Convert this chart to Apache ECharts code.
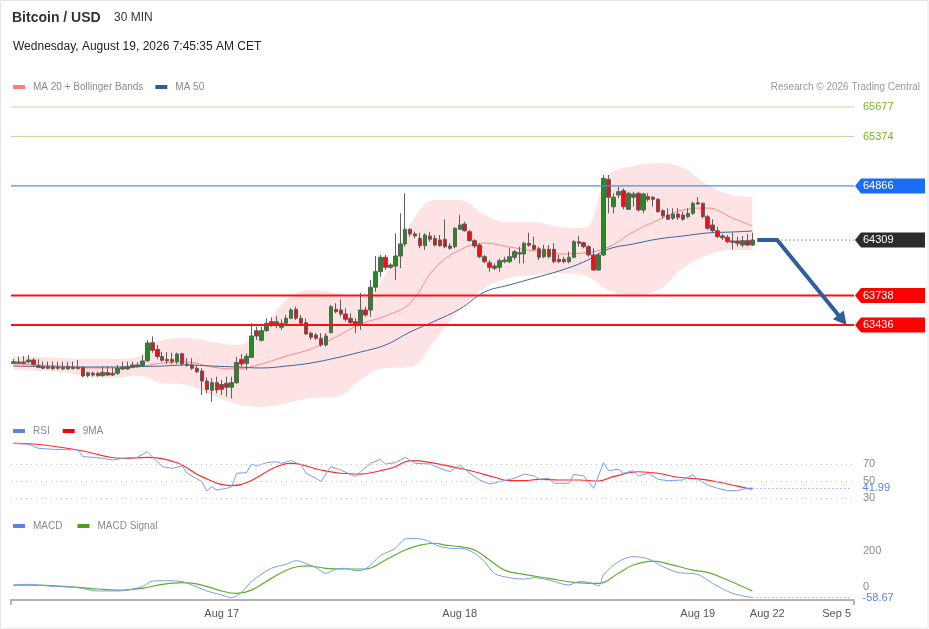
<!DOCTYPE html>
<html><head><meta charset="utf-8">
<script src="https://cdn.jsdelivr.net/npm/echarts@6/dist/echarts.min.js"></script>
<style>html,body{margin:0;padding:0;background:#fff}#c{width:929px;height:629px}</style>
</head><body><div id="c"></div>
<script>
const FONT = '"Liberation Sans", Arial, sans-serif';

// ---- candles (30 min bars) ----
const candleOpen = [
63042,63042,63056,63056,63076,63018,63007,62991,63007,63004,
63001,62984,63001,63001,63001,62915,62940,62940,62915,62946,
62940,62940,63001,62984,63001,63007,63020,63069,63254,63184,
63112,63083,63083,63059,63141,63035,63025,62991,62963,62860,
62765,62843,62824,62837,62796,62843,63083,63042,63104,63377,
63279,63377,63470,63436,63412,63453,63505,63597,63505,63460,
63351,63333,63299,63230,63357,63597,63590,63549,63505,63470,
63436,63590,63590,63824,63984,64132,64029,64042,64145,64269,
64420,64372,64327,64251,64351,64327,64310,64317,64248,64241,
64420,64474,64395,64303,64258,64138,64076,64042,64029,64087,
64087,64132,64179,64166,64276,64255,64220,64138,64214,64214,
64111,64111,64087,64132,64292,64282,64241,64156,64001,64156,
64934,64652,64772,64817,64625,64749,64790,64618,64755,64749,
64728,64611,64567,64533,64577,64567,64549,64584,64693,64687,
64549,64464,64405,64351,64338,64300,64300,64258,64303,64258];
const candleClose = [
63059,63056,63042,63076,63028,63001,62991,63007,62987,62991,
62984,63007,62987,62987,62912,62946,62922,62915,62950,62922,
62922,62991,62984,63007,63025,63025,63066,63251,63176,63112,
63073,63066,63059,63138,63035,63022,62991,62956,62860,62773,
62843,62768,62775,62796,62843,63050,63035,63114,63323,63323,
63377,63453,63436,63470,63453,63505,63590,63505,63453,63344,
63310,63299,63230,63323,63624,63573,63549,63495,63460,63436,
63590,63539,63824,63984,64132,64029,64053,64145,64269,64420,
64372,64351,64251,64361,64317,64258,64251,64241,64224,64430,
64464,64405,64303,64248,64138,64087,64029,64019,64097,64104,
64138,64190,64166,64276,64255,64214,64132,64214,64138,64087,
64087,64087,64132,64292,64276,64241,64156,64001,64156,64944,
64749,64749,64806,64652,64790,64783,64618,64783,64728,64728,
64601,64557,64523,64577,64543,64523,64584,64687,64680,64549,
64430,64405,64344,64333,64292,64286,64276,64303,64258,64309];
const candleLow = [
63035,63040,63032,63042,63014,62991,62981,62981,62973,62973,
62973,62973,62981,62981,62898,62898,62905,62905,62905,62912,
62912,62922,62973,62973,62991,63001,63014,63056,63151,63087,
63059,63035,63035,63035,63014,63007,62973,62940,62716,62734,
62647,62734,62716,62699,62682,62830,63007,62973,63094,63282,
63264,63367,63418,63402,63385,63436,63495,63487,63436,63333,
63282,63282,63213,63213,63351,63556,63521,63470,63436,63351,
63385,63521,63521,63778,63932,64001,64012,63899,64019,64241,
64344,64327,64224,64207,64292,64241,64241,64224,64207,64224,
64413,64395,64292,64224,64122,64070,63984,64001,63984,64070,
64070,64104,64070,64070,64241,64200,64104,64122,64122,64070,
64070,64070,64070,64122,64241,64224,64138,63994,63994,64145,
64584,64584,64739,64625,64618,64652,64601,64584,64704,64652,
64590,64533,64515,64515,64515,64508,64533,64567,64670,64533,
64413,64385,64327,64310,64276,64214,64241,64235,64248,64248];
const candleHigh = [
63087,63110,63117,63128,63094,63083,63059,63059,63059,63059,
63059,63059,63059,63076,63007,62956,62956,62956,63007,63014,
63001,63025,63059,63059,63059,63053,63128,63279,63320,63230,
63158,63158,63151,63151,63151,63094,63094,63025,62991,62894,
62888,62905,62871,62905,62905,63110,63138,63145,63453,63418,
63418,63505,63515,63528,63495,63539,63608,63624,63539,63505,
63367,63354,63351,63351,63642,63659,63700,63608,63556,63505,
63765,63624,63899,64145,64156,64156,64070,64379,64584,64790,
64430,64395,64385,64379,64395,64361,64361,64523,64276,64440,
64567,64498,64413,64317,64276,64156,64104,64070,64122,64138,
64224,64207,64241,64292,64385,64344,64241,64258,64258,64276,
64156,64138,64190,64310,64351,64292,64258,64224,64173,64978,
64978,64790,64858,64841,64806,64806,64806,64796,64790,64762,
64739,64625,64636,64636,64636,64601,64636,64704,64749,64693,
64567,64523,64446,64372,64361,64385,64344,64351,64372,64385];

// ---- overlays read at sampled bars ----
const overlayIdx = [0,5,10,15,20,25,30,35,40,45,50,55,60,65,70,75,80,85,90,95,100,105,110,115,120,125,130,135,140,145,149];
const bbUpper = [63107,63107,63097,63087,63087,63107,63282,63302,63261,63230,63385,63693,63796,63765,63724,63950,64464,64721,64721,64567,64495,64495,64443,64433,64978,65070,65101,65050,64875,64772,64752];
const bbLower = [62973,62963,62953,62901,62891,62912,62840,62819,62716,62624,62593,62634,62686,62696,62871,62994,63004,63282,63590,63816,63919,63950,63971,63950,63796,63744,63796,64022,64156,64207,64207];
const ma20 = [63035,63025,63014,62994,62994,63004,63045,63056,63004,62984,63035,63117,63189,63313,63446,63528,63662,64022,64207,64279,64238,64197,64166,64176,64238,64392,64515,64618,64639,64536,64454];
const ma50 = [63014,63009,63004,63004,63004,63009,63014,63025,63014,63004,62994,63014,63045,63097,63158,63230,63364,63477,63600,63775,63847,63919,63991,64084,64217,64269,64320,64351,64382,64392,64402];

// ---- RSI ----
const rsiIdx = [0,3,5,8,13,14,16,18,20,22,25,27,28,30,32,34,35,36,38,39,40,41,43,44,45,47,48,49,51,53,54,56,58,59,61,62,64,66,69,70,72,74,75,77,79,81,84,86,88,90,92,94,96,98,101,103,105,106,108,109,112,113,115,117,119,120,122,123,125,126,128,130,132,135,137,138,140,142,144,146,147,149];
const rsiVal = [94.3,93.5,88.5,87.3,86.5,78.6,77.9,76.7,74.7,76.7,77.9,84.5,78.6,66.8,64.9,67.6,59.1,55.9,49.2,38.2,43.3,39.4,41.4,43.3,59.1,59.8,70,67.6,71.5,72.7,70.8,73.9,68.8,59.1,53.2,49.2,66.8,62.9,55.1,60.9,70.8,75.5,70,71.5,77.9,70.8,70,64.9,60.9,68.8,59.1,51.2,46.5,49.2,53.2,58.2,55.9,52,53.2,47.3,47.3,57.9,55.9,41.4,71.5,62.1,63.8,59.1,62.1,55.9,59.1,52,50.4,51.2,57.1,52,45.3,41.4,38.6,38.6,40.2,41.99];
const rsiMaIdx = [0,4,13,22,27,33,38,44,47,53,56,62,66,70,74,77,79,81,85,89,93,97,100,103,106,110,114,118,121,126,130,134,139,144,148,149];
const rsiMaVal = [94.3,93.5,86.5,76.7,77.9,71.5,55.1,44.5,48,66.8,70.8,62.9,59.1,58.2,62.1,66.8,72.7,73.9,70.8,66.1,60.9,54.4,50.4,50.4,52,51.2,51.2,50,55.1,60.9,59.1,54.4,52,46.5,41.4,40.6];
const rsiLevels = [70, 50, 30];

// ---- MACD ----
const macdIdx = [0,3,7,13,17,21,26,28,31,34,36,39,42,44,46,48,52,55,57,58,61,63,65,67,69,71,74,77,79,81,83,86,88,91,93,95,97,100,103,105,108,112,114,116,118,119,122,125,128,131,134,138,141,145,149];
const macdVal = [11,15,6,-4,-22,-22,2,33,35,30,11,-22,-44,-59,-30,30,104,126,146,141,107,76,100,104,91,100,174,215,267,270,261,225,215,211,187,141,76,52,44,52,39,11,30,26,7,67,141,169,156,113,81,70,20,-35,-58.67];
const sigIdx = [0,4,11,17,21,26,30,34,38,42,45,48,52,56,59,63,67,71,75,79,82,85,87,90,93,96,99,103,108,113,118,122,125,129,133,137,140,144,149];
const sigVal = [11,11,2,-11,-17,-7,15,24,11,-22,-35,-17,48,104,118,104,100,100,150,206,233,243,233,224,206,150,94,70,48,26,20,76,122,144,122,94,81,39,-22];
const macdLevels = [200, 0];

// ---- annotation levels & forecast ----
const levelPrices = [65677, 65374, 64866, 64309, 63738, 63436];
const levelKinds  = ['res', 'res', 'pivot', 'last', 'sup', 'sup'];
const forecastIdx = [150, 154, 168];
const forecastPrice = [64309, 64309, 63436];

// ---- time axis ----
const N_CAT = 170;
const xCategories = Array.from({length: N_CAT}, (_, i) => String(i));
const tickIndex = [42, 90, 138, 152, 166];
const tickText = ['Aug 17', 'Aug 18', 'Aug 19', 'Aug 22', 'Sep 5'];

const lastIndex = candleClose.length - 1;
const pairs = (idx, vals) => idx.map((x, k) => [x, vals[k]]);
const candles = candleOpen.map((o, i) => [o, candleClose[i], candleLow[i], candleHigh[i]]);
const bandWidth = overlayIdx.map((x, k) => [x, bbUpper[k] - bbLower[k]]);
const rsiLast = rsiVal[rsiVal.length - 1];
const macdLast = macdVal[macdVal.length - 1];

const levelStyle = {
  res:   {line: '#bcdca2', width: 1, dash: null, text: '#7fb321', tag: null},
  pivot: {line: '#4f8bf6', width: 1.3, dash: null, text: '#fff', tag: '#1b6ef3'},
  last:  {line: '#444', width: 1, dash: [1, 3], text: '#fff', tag: '#2c2c2c'},
  sup:   {line: '#ff1010', width: 2, dash: null, text: '#fff', tag: '#ff0000'}
};

const chart = echarts.init(document.getElementById('c'), null, {renderer: 'canvas'});

const grids = [
  {left: 11, right: 75, top: 100, height: 310},
  {left: 11, right: 75, top: 438.5, height: 85},
  {left: 11, right: 75, top: 533, height: 67}
];

const xAxes = [0, 1, 2].map(g => ({
  type: 'category', gridIndex: g, data: xCategories, boundaryGap: true,
  show: g === 2,
  axisLine: {show: g === 2, onZero: false, lineStyle: {color: '#b4b4b4', width: 2}},
  axisTick: {show: g === 2, interval: (i) => i === 0, length: 5, lineStyle: {color: '#b4b4b4', width: 2}},
  axisLabel: {
    show: g === 2, interval: (i) => tickIndex.indexOf(i) >= 0,
    formatter: (v, i) => { const k = tickIndex.indexOf(Number(v)); return k >= 0 ? tickText[k] : ''; },
    color: '#555', fontSize: 11, fontFamily: FONT, margin: 8
  },
  splitLine: {show: false}
}));

const yAxes = [
  {type: 'value', gridIndex: 0, min: 62562, max: 65749, show: false, splitLine: {show: false}},
  {type: 'value', gridIndex: 1, min: 0, max: 100, show: false, splitLine: {show: false}},
  {type: 'value', gridIndex: 2, min: -72, max: 300, show: false, splitLine: {show: false}}
];

function renderLevel(params, api) {
  const p = api.value(1);
  const k = levelKinds[params.dataIndex];
  const st = levelStyle[k];
  const cs = params.coordSys;
  const y = api.coord([0, p])[1];
  const x1 = cs.x + cs.width;
  let x0 = cs.x;
  if (k === 'last') x0 = api.coord([lastIndex + 1, p])[0];
  const children = [{
    type: 'line', shape: {x1: x0, y1: y, x2: x1, y2: y},
    style: {stroke: st.line, lineWidth: st.width, lineDash: st.dash}
  }];
  const right = api.getWidth() - 4;
  if (st.tag) {
    children.push({type: 'polygon', shape: {points: [[x1 + 1, y], [x1 + 7, y - 7.5], [right, y - 7.5], [right, y + 7.5], [x1 + 7, y + 7.5]]}, style: {fill: st.tag}});
  }
  children.push({type: 'text', x: x1 + 9, y: y, style: {text: String(p), fill: st.text, font: '11px ' + FONT, align: 'left', verticalAlign: 'middle'}});
  return {type: 'group', children};
}

function renderArrow(params, api) {
  if (params.dataIndex !== 0) return null;
  const pts = forecastIdx.map((ix, k) => api.coord([ix, forecastPrice[k]]));
  const a = pts[pts.length - 2], b = pts[pts.length - 1];
  const dx = b[0] - a[0], dy = b[1] - a[1], len = Math.hypot(dx, dy);
  const ux = dx / len, uy = dy / len;
  const headLen = 13, headW = 7;
  const base = [b[0] - ux * headLen, b[1] - uy * headLen];
  const linePts = pts.slice(0, -1).concat([[base[0] + ux * 2, base[1] + uy * 2]]);
  return {type: 'group', children: [
    {type: 'polyline', shape: {points: linePts}, style: {stroke: '#2f5e9e', lineWidth: 4, fill: null, lineJoin: 'miter'}},
    {type: 'polygon', shape: {points: [b, [base[0] - uy * headW, base[1] + ux * headW], [base[0] + uy * headW, base[1] - ux * headW]]}, style: {fill: '#2f5e9e'}}
  ]};
}

const option = {
  animation: false,
  backgroundColor: '#fff',
  textStyle: {fontFamily: FONT},
  graphic: [{type: 'rect', shape: {x: 0.5, y: 0.5, width: 927.5, height: 627.5}, style: {fill: null, stroke: '#e2e6ea', lineWidth: 1}, silent: true}],
  title: [
    {text: 'Bitcoin / USD', left: 12, top: 11, padding: 0, textStyle: {fontFamily: FONT, fontSize: 14, fontWeight: 'bold', color: '#333'}},
    {text: '30 MIN', left: 114, top: 12, padding: 0, textStyle: {fontFamily: FONT, fontSize: 12, fontWeight: 'normal', color: '#333'}},
    {text: 'Wednesday, August 19, 2026 7:45:35 AM CET', left: 13, top: 41, padding: 0, textStyle: {fontFamily: FONT, fontSize: 12, fontWeight: 'normal', color: '#222'}},
    {text: 'Research © 2026 Trading Central', right: 9, top: 82, padding: 0, textStyle: {fontFamily: FONT, fontSize: 10, fontWeight: 'normal', color: '#9a9a9a'}}
  ],
  legend: [
    {data: ['MA 20 + Bollinger Bands', 'MA 50'], left: 13, top: 82, padding: 0, icon: 'rect', itemWidth: 12, itemHeight: 4, itemGap: 12, selectedMode: false, textStyle: {fontFamily: FONT, fontSize: 10, color: '#8a8a8a', padding: [0, 0, 0, 3]}},
    {data: ['RSI', '9MA'], left: 13, top: 426, padding: 0, icon: 'rect', itemWidth: 12, itemHeight: 4, itemGap: 13, selectedMode: false, textStyle: {fontFamily: FONT, fontSize: 10, color: '#8a8a8a', padding: [0, 0, 0, 3]}},
    {data: ['MACD', 'MACD Signal'], left: 13, top: 521, padding: 0, icon: 'rect', itemWidth: 12, itemHeight: 4, itemGap: 15, selectedMode: false, textStyle: {fontFamily: FONT, fontSize: 10, color: '#8a8a8a', padding: [0, 0, 0, 3]}}
  ],
  grid: grids,
  xAxis: xAxes,
  yAxis: yAxes,
  series: [
    {name: 'bbLower', type: 'line', xAxisIndex: 0, yAxisIndex: 0, data: pairs(overlayIdx, bbLower), smooth: 0.4, symbol: 'none', silent: true,
     stack: 'bb', lineStyle: {width: 0, opacity: 0}, z: 1},
    {name: 'bbBand', type: 'line', xAxisIndex: 0, yAxisIndex: 0, data: bandWidth, smooth: 0.4, symbol: 'none', silent: true,
     stack: 'bb', lineStyle: {width: 0, opacity: 0}, areaStyle: {color: '#fde3e3', opacity: 1}, z: 1},
    {name: 'MA 20 + Bollinger Bands', type: 'line', xAxisIndex: 0, yAxisIndex: 0, data: pairs(overlayIdx, ma20), smooth: 0.4, symbol: 'none',
     itemStyle: {color: '#ff7b7b'}, lineStyle: {width: 1, color: 'rgba(255,100,100,0.7)'}, z: 2},
    {name: 'MA 50', type: 'line', xAxisIndex: 0, yAxisIndex: 0, data: pairs(overlayIdx, ma50), smooth: 0.4, symbol: 'none',
     itemStyle: {color: '#30589a'}, lineStyle: {width: 1, color: '#3b64a6'}, z: 2},
    {name: 'Bitcoin / USD', type: 'candlestick', xAxisIndex: 0, yAxisIndex: 0, data: candles, barWidth: 4,
     itemStyle: {color: '#228b22', color0: '#ee1111', borderColor: '#5f5f5f', borderColor0: '#5f5f5f', borderWidth: 1}, z: 3},
    {name: 'levels', type: 'custom', xAxisIndex: 0, yAxisIndex: 0, data: levelPrices.map(p => [N_CAT - 1, p]), encode: {x: 0, y: 1},
     renderItem: renderLevel, silent: true, z: 5},
    {name: 'forecast', type: 'custom', xAxisIndex: 0, yAxisIndex: 0, data: pairs(forecastIdx, forecastPrice), encode: {x: 0, y: 1},
     renderItem: renderArrow, silent: true, z: 6},
    {name: 'RSI', type: 'line', xAxisIndex: 1, yAxisIndex: 1, data: pairs(rsiIdx, rsiVal), symbol: 'none',
     itemStyle: {color: '#5b83e6'}, lineStyle: {width: 1, color: '#7b9cf0'}, z: 3,
     markLine: {
       silent: true, symbol: 'none', animation: false,
       lineStyle: {color: '#c4c4c4', type: [1, 4], width: 1},
       label: {position: 'end', distance: 9, color: '#8c8c8c', fontSize: 11, fontFamily: FONT},
       data: rsiLevels.map(v => ({yAxis: v, label: {formatter: String(v)}})).concat([[
         {coord: [lastIndex, rsiLast], lineStyle: {color: '#6d90ec', type: [1, 3]}, label: {formatter: rsiLast.toFixed(2), color: '#5b83e6', distance: 11}},
         {coord: [N_CAT - 1, rsiLast]}
       ]])
     }},
    {name: '9MA', type: 'line', xAxisIndex: 1, yAxisIndex: 1, data: pairs(rsiMaIdx, rsiMaVal), smooth: 0.4, symbol: 'none',
     itemStyle: {color: '#ff0000'}, lineStyle: {width: 1.2, color: '#ff2a2a'}, z: 2},
    {name: 'MACD', type: 'line', xAxisIndex: 2, yAxisIndex: 2, data: pairs(macdIdx, macdVal), smooth: 0.3, symbol: 'none',
     itemStyle: {color: '#5b83e6'}, lineStyle: {width: 1, color: '#7b9cf0'}, z: 3,
     markLine: {
       silent: true, symbol: 'none', animation: false,
       label: {position: 'end', distance: 9, color: '#8c8c8c', fontSize: 11, fontFamily: FONT},
       data: macdLevels.map(v => ({yAxis: v, lineStyle: {color: 'rgba(0,0,0,0)'}, label: {formatter: String(v)}})).concat([[
         {coord: [lastIndex, macdLast], lineStyle: {color: '#6d90ec', type: [1, 3], width: 1}, label: {formatter: macdLast.toFixed(2), color: '#5b83e6', distance: 11}},
         {coord: [N_CAT - 1, macdLast]}
       ]])
     }},
    {name: 'MACD Signal', type: 'line', xAxisIndex: 2, yAxisIndex: 2, data: pairs(sigIdx, sigVal), smooth: 0.4, symbol: 'none',
     itemStyle: {color: '#4aa01a'}, lineStyle: {width: 1.2, color: '#5fae2e'}, z: 2}
  ]
};
chart.setOption(option);
</script>
</body></html>
